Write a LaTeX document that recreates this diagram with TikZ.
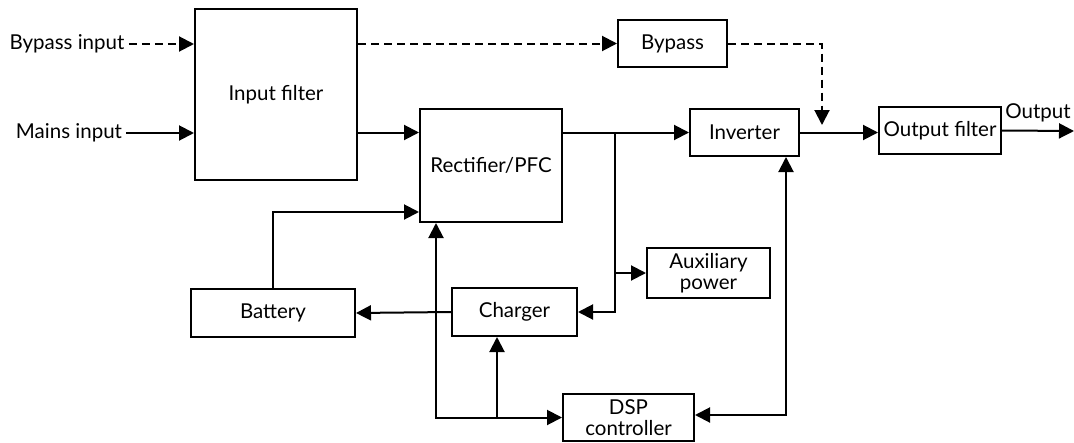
\documentclass[tikz,border=0pt]{standalone}
\usepackage{fontspec}
\setmainfont{Lato}
\usetikzlibrary{arrows.meta}
\begin{document}
\begin{tikzpicture}[x = 1pt, y = -1pt, line width = 2pt, font = \fontsize{20.5}{21}\selectfont,
		blockbox/.style = {draw, inner sep = 0pt, align = center},
		flow/.style = {-{Triangle[length = 15pt, width = 15pt]}},
		twoway/.style = {{Triangle[length = 15pt, width = 15pt]}-{Triangle[length = 15pt, width = 15pt]}},
		dashline/.style = {dash pattern = on 8pt off 5pt}]
							\useasboundingbox (0, 0) rectangle (1074, 442);
							\node[blockbox, minimum width = 162pt, minimum height = 171pt] (infilter) at (276, 94.5) {Input filter};
							\node[blockbox, minimum width = 109pt, minimum height = 47pt] (bypass) at (672.5, 43.5) {Bypass};
							\node[blockbox, minimum width = 142pt, minimum height = 113pt] (rect) at (491, 165.5) {Rectifier/PFC};
							\node[blockbox, minimum width = 109pt, minimum height = 47pt] (inv) at (744.5, 132.5) {Inverter};
							\node[blockbox, minimum width = 122pt, minimum height = 47pt] (outfilter) at (940, 130.5) {Output filter};
							\node[blockbox, minimum width = 123pt, minimum height = 50pt] (aux) at (708.5, 273) {Auxiliary\\power};
							\node[blockbox, minimum width = 125pt, minimum height = 48pt] (charger) at (514.5, 312) {Charger};
							\node[blockbox, minimum width = 164pt, minimum height = 48pt] (battery) at (273, 313) {Battery};
							\node[blockbox, minimum width = 131pt, minimum height = 47pt] (dsp) at (628.5, 417.5) {DSP\\controller};
							\node (bypin) at (67, 44) {Bypass input};
							\node (mainsin) at (69, 133) {Mains input};
							\node (outlbl) at (1038, 113) {Output};
							\coordinate (outend) at (1074, 131);
							\coordinate (split) at (615, 132.5);
							\coordinate (auxtap) at (615, 273);
							\coordinate (chgtap) at (615, 312);
							\coordinate (battap) at (0, 212);
							\coordinate (ctlcorner) at (436, 417.5);
							\coordinate (chgfeed) at (497, 417.5);
							\coordinate (invfeed) at (786, 415);
							\coordinate (bypdrop) at (822, 43.5);
							\coordinate (bypend) at (822, 125);
							\draw[flow, dashline] (bypin.east) -- (bypin.east -| infilter.west);
							\draw[flow] (mainsin.east) -- (mainsin.east -| infilter.west);
							\draw[flow, dashline] (infilter.east |- bypass) -- (bypass.west);
							\draw[flow] (infilter.east |- split) -- (rect.west |- split);
							\draw[flow] (rect.east |- split) -- (inv.west);
							\draw[flow] (split) -- (chgtap) -- (charger.east);
							\draw[flow] (auxtap) -- (aux.west);
							\draw[flow] (charger.west) -- (battery.east);
							\draw[flow] (battery.north) |- (rect.west |- battap);
							\draw[twoway] (rect.south -| ctlcorner) -- (ctlcorner) -- (dsp.west);
							\draw[flow] (chgfeed) -- (charger.south -| chgfeed);
							\draw[twoway] (dsp.east |- invfeed) -- (invfeed) -- (inv.south -| invfeed);
							\draw[flow] (inv.east) -- (outfilter.west |- inv);
							\draw[flow, dashline] (bypass.east) -- (bypdrop) -- (bypend);
							\draw[flow] (outfilter.east) -- (outend);
						\end{tikzpicture}
\end{document}
